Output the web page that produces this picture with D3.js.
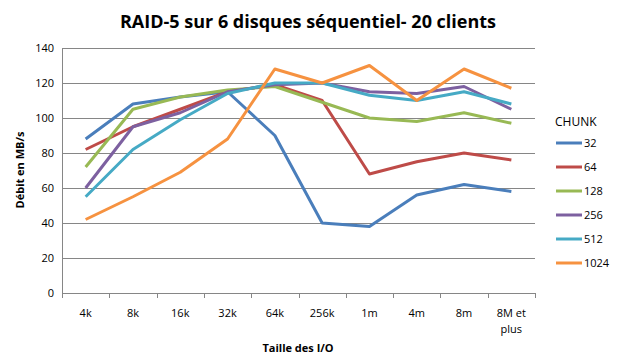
<!DOCTYPE html>
<html>
<head>
<meta charset="utf-8">
<script src="https://cdn.jsdelivr.net/npm/d3@7"></script>
<style>
body{margin:0;background:#fff;}
text{font-family:"Open Sans",sans-serif;fill:#000;}
</style>
</head>
<body>
<div id="canvas"></div>
<script>
// data
var sizes = ['4k','8k','16k','32k','64k','256k','1m','4m','8m','8M et plus'];
var chunks = ['32','64','128','256','512','1024'];
var colors = ['#4A7EBB','#BE4B48','#98B954','#7D60A0','#46AAC5','#F69240'];
var s32   = [88,108,112,115,90,40,38,56,62,58];
var s64   = [82,95,105,115,119,110,68,75,80,76];
var s128  = [72,105,112,116,118,109,100,98,103,97];
var s256  = [60,95,103,115,119,120,115,114,118,105];
var s512  = [55,82,99,114,120,120,113,110,115,108];
var s1024 = [42,55,69,88,128,120,130,110,128,117];
var yTicks = [0,20,40,60,80,100,120,140];

var series = [s32,s64,s128,s256,s512,s1024];

var W = 617, H = 364;
var m = {t:48,l:62,r:82,b:71};
var w = 535 - m.l, h = 293 - m.t;

var svg = d3.select('#canvas').append('svg')
    .attr('width',W).attr('height',H);

svg.append('text')
    .attr('x',308).attr('y',28)
    .attr('text-anchor','middle')
    .style('font-size','18px').style('font-weight','bold')
    .text('RAID-5 sur 6 disques séquentiel- 20 clients');

var plot = svg.append('g').attr('transform','translate(' + m.l + ',' + m.t + ')');

var scaleX = d3.scaleBand().domain(sizes).range([0,w]);
var scaleY = d3.scaleLinear().domain([0,140]).range([h,0]);

// gridlines + y labels
var axisY = d3.axisLeft(scaleY).tickValues(yTicks).tickSize(-w).tickPadding(8);
var gy = plot.append('g').call(axisY);
gy.select('.domain').remove();
gy.selectAll('line').attr('stroke','#868686');
gy.selectAll('text').style('font-size','11px').style('font-family','"Open Sans",sans-serif');
plot.append('line').attr('x1',0.5).attr('x2',0.5).attr('y1',0).attr('y2',h).attr('stroke','#868686');

// x axis with ticks at band edges
var gx = plot.append('g').attr('transform','translate(0,' + h + ')');
gx.append('line').attr('x1',0).attr('x2',w).attr('y1',0.5).attr('y2',0.5).attr('stroke','#868686');
var edges = sizes.map(function(d){return scaleX(d)}).concat([w]);
gx.selectAll('.tk').data(edges).enter().append('line')
    .attr('x1',function(d){return Math.round(d)+0.5}).attr('x2',function(d){return Math.round(d)+0.5})
    .attr('y1',0).attr('y2',5).attr('stroke','#868686');
var lab = gx.selectAll('.lab').data(sizes).enter().append('text')
    .attr('text-anchor','middle')
    .attr('x',function(d){return scaleX(d)+scaleX.bandwidth()/2})
    .attr('y',24)
    .style('font-size','11px');
lab.each(function(d){
    var t = d3.select(this);
    if(d === '8M et plus'){
        t.append('tspan').attr('x',scaleX(d)+scaleX.bandwidth()/2).attr('dy',0).text('8M et');
        t.append('tspan').attr('x',scaleX(d)+scaleX.bandwidth()/2).attr('dy',16).text('plus');
    } else t.text(d);
});

svg.append('text').attr('x',298).attr('y',352).attr('text-anchor','middle')
    .style('font-size','11px').style('font-weight','bold').text('Taille des I/O');
svg.append('text').attr('transform','translate(24,170) rotate(-90)').attr('text-anchor','middle')
    .style('font-size','11px').style('font-weight','bold').text('Débit en MB/s');

// lines
var line = d3.line()
    .x(function(d,i){return scaleX(sizes[i])+scaleX.bandwidth()/2})
    .y(function(d){return scaleY(d)});
plot.selectAll('.series').data(series).enter().append('path')
    .attr('d',line).attr('fill','none')
    .attr('stroke',function(d,i){return colors[i]})
    .attr('stroke-width',3).attr('stroke-linejoin','round');

// legend
var leg = svg.append('g').attr('transform','translate(555,0)');
leg.append('text').attr('x',0).attr('y',126).style('font-size','12px').text('CHUNK');
var li = leg.selectAll('.li').data(chunks).enter().append('g')
    .attr('transform',function(d,i){return 'translate(0,' + (143 + i*24) + ')'});
li.append('line').attr('x1',1).attr('x2',27).attr('stroke',function(d,i){return colors[i]}).attr('stroke-width',3);
li.append('text').attr('x',29).attr('y',4).style('font-size','11px').text(function(d){return d});
</script>
</body>
</html>
